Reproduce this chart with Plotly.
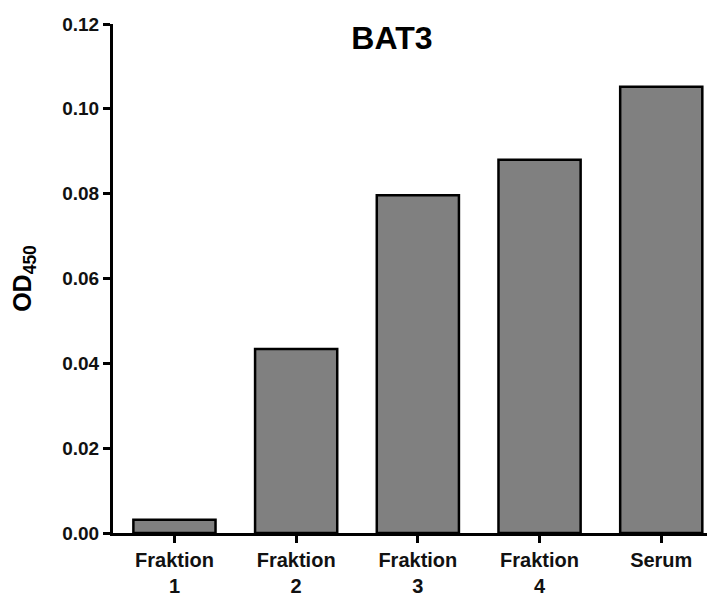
import plotly.graph_objects as go

# bar chart data
categories = ['Fraktion<br>1', 'Fraktion<br>2', 'Fraktion<br>3', 'Fraktion<br>4', 'Serum']
od450 = [0.0031, 0.0434, 0.0796, 0.0880, 0.1052]
y_ticks = [0.00, 0.02, 0.04, 0.06, 0.08, 0.10, 0.12]
y_tick_labels = ['0.00', '0.02', '0.04', '0.06', '0.08', '0.10', '0.12']

font_family = 'Arial, Liberation Sans, sans-serif'


def render_bat3(cats=categories, vals=od450):
    fig = go.Figure(go.Bar(
        x=cats, y=vals,
        marker=dict(color='#808080', line=dict(color='black', width=2.5)),
        width=0.675,
    ))

    # page body has an 8px margin, so the figure is a bit smaller than the window
    fig.update_layout(
        title=dict(text='<b>BAT3</b>', x=0.543, xanchor='center', y=0.95, yanchor='middle',
                   font=dict(family=font_family, size=32, color='black')),
        width=707, height=591,
        margin=dict(l=105, r=3, t=16, b=66, pad=0),
        paper_bgcolor='white', plot_bgcolor='white',
        showlegend=False,
        font=dict(family=font_family, color='black'),
    )
    fig.update_xaxes(
        range=[-0.505, 4.417], automargin=False,
        showline=True, linecolor='black', linewidth=3,
        ticks='outside', ticklen=7, tickwidth=2.5, tickcolor='black',
        tickfont=dict(family=font_family, size=20, color='#111', weight='bold'),
        showgrid=False, zeroline=False,
    )
    fig.update_yaxes(
        range=[0, 0.12], automargin=False,
        tickvals=y_ticks, ticktext=y_tick_labels,
        showline=True, linecolor='black', linewidth=3,
        ticks='outside', ticklen=7, tickwidth=2.5, tickcolor='black',
        tickfont=dict(family=font_family, size=19, color='#111', weight='bold'),
        title=dict(text='<b>OD</b><sub>450</sub>', standoff=24,
                   font=dict(family=font_family, size=25, color='black', weight='bold')),
        showgrid=False, zeroline=False,
    )
    return fig


fig = render_bat3()
fig.write_html('out.html')
